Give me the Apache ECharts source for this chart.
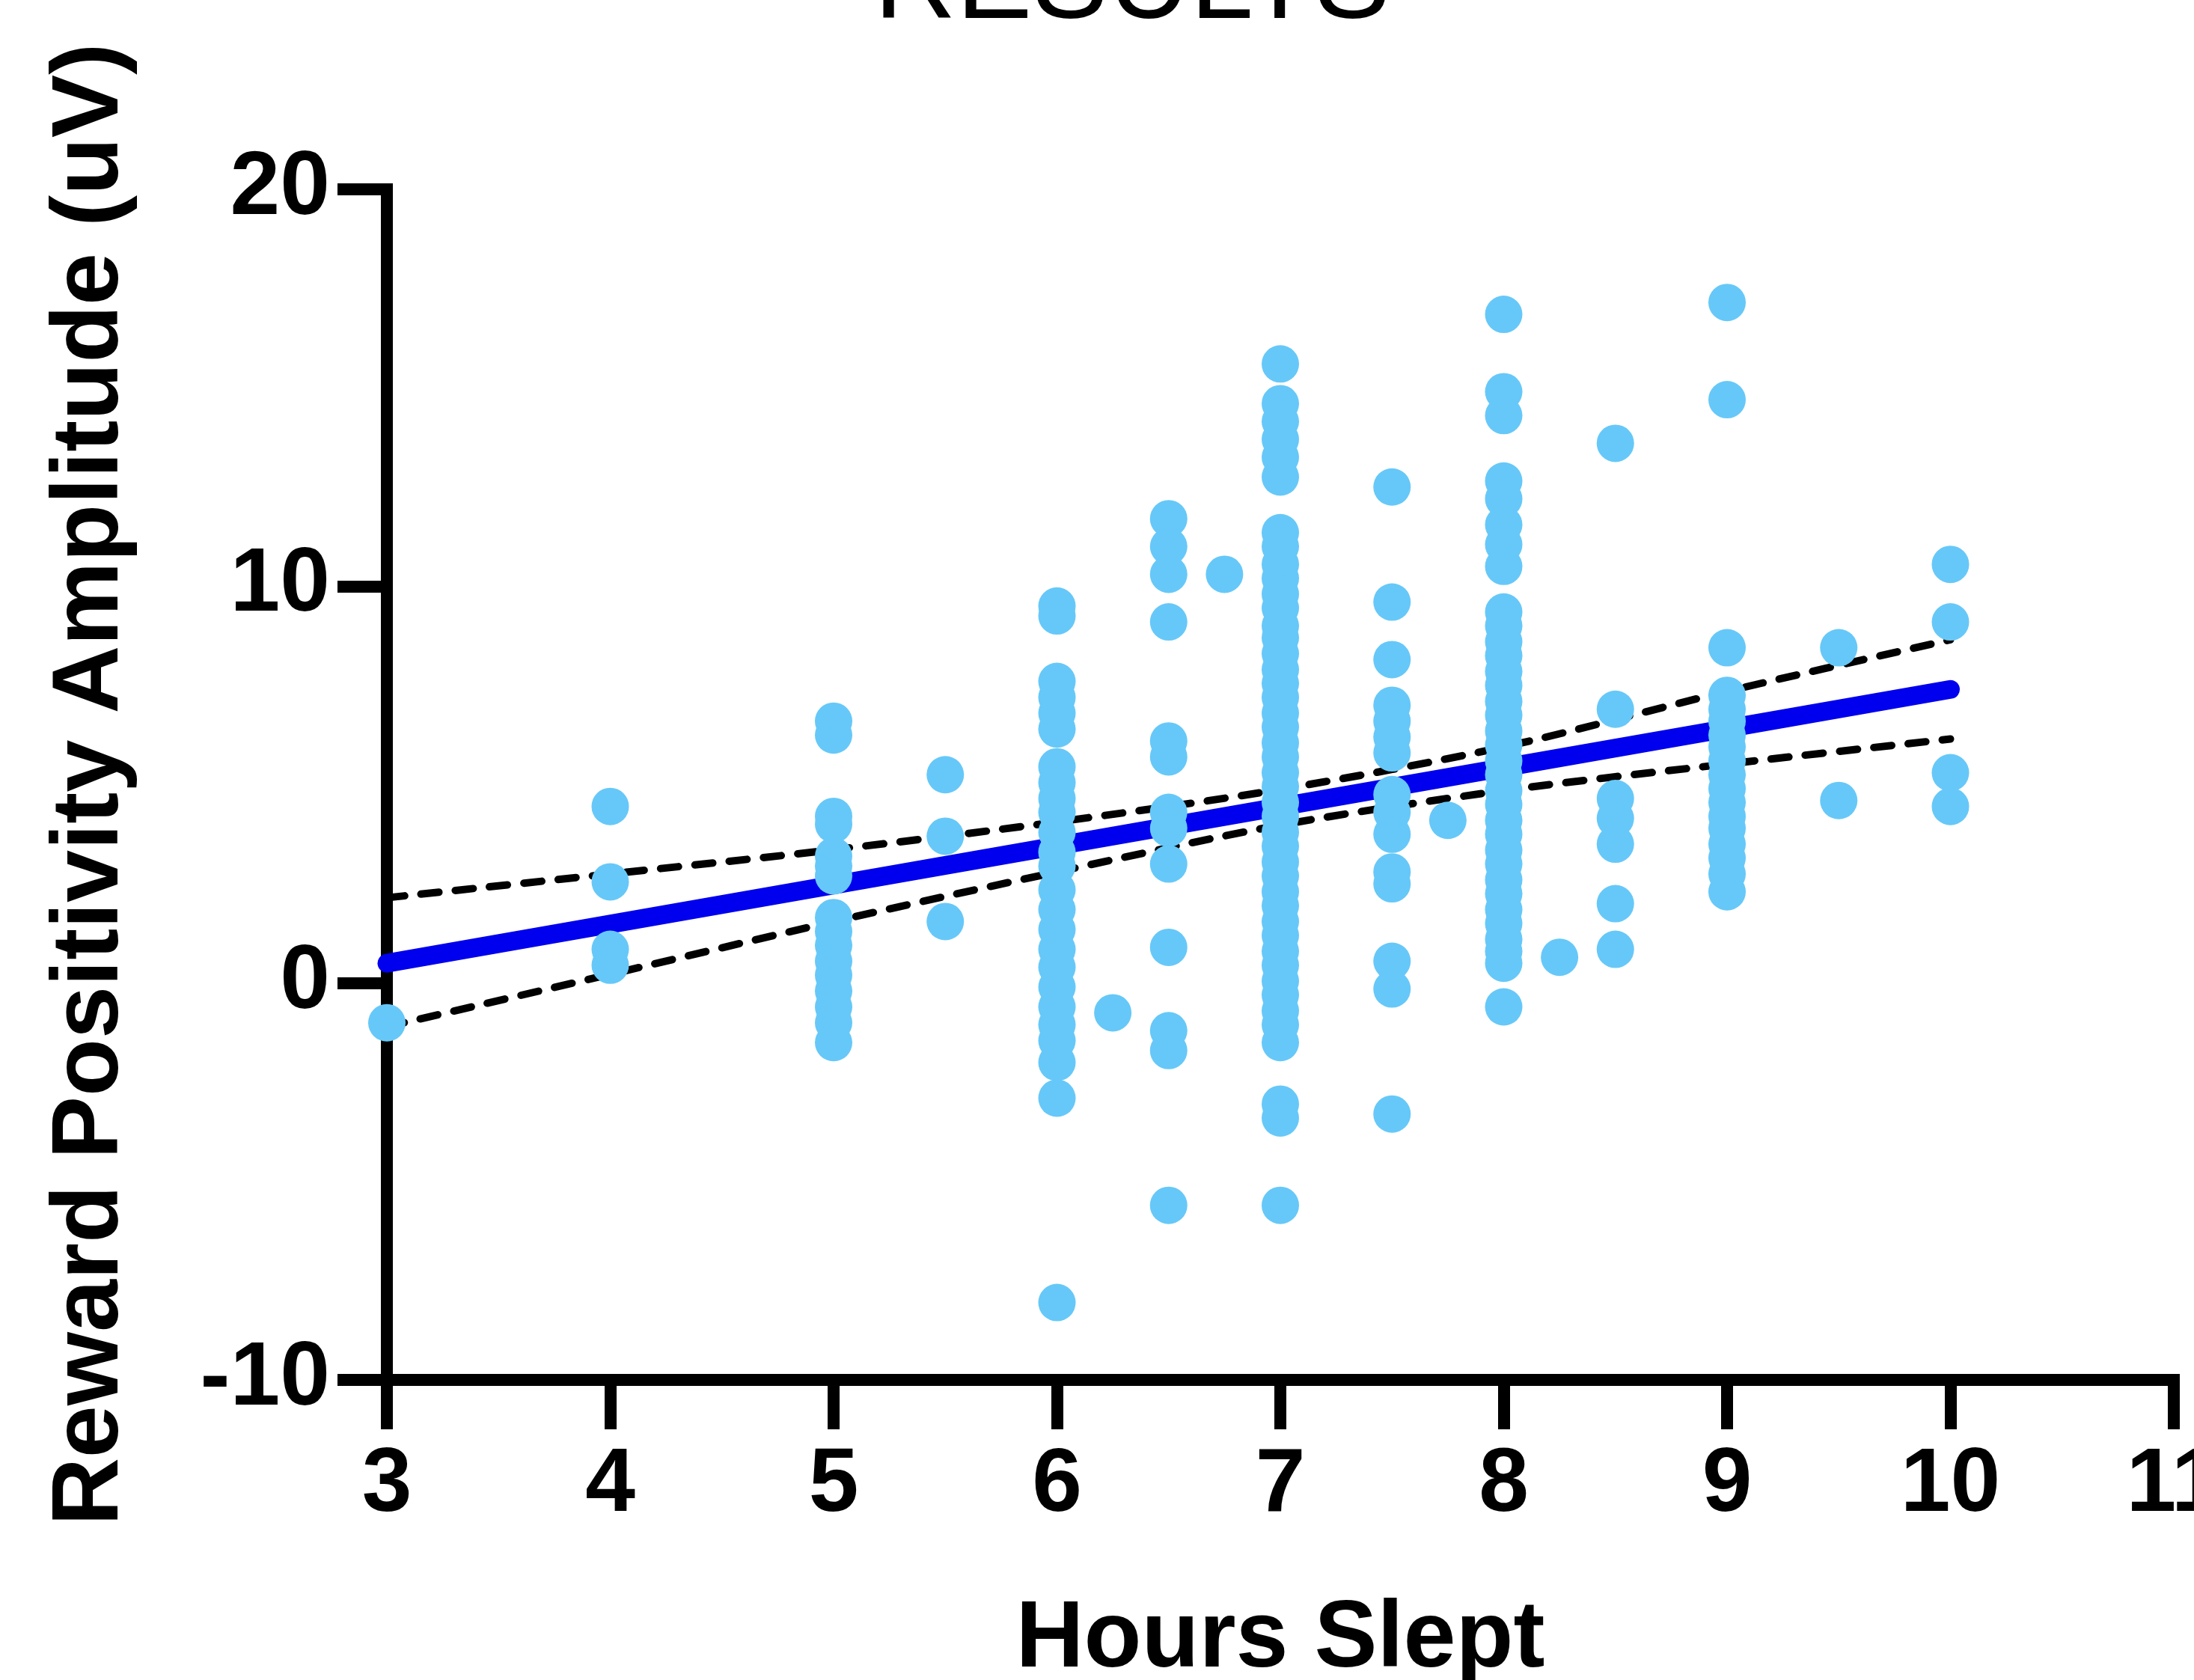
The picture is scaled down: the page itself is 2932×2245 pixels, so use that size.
<!DOCTYPE html>
<html>
<head>
<meta charset="utf-8">
<script src="https://cdn.jsdelivr.net/npm/echarts@6/dist/echarts.min.js"></script>
<style>
html,body{margin:0;padding:0;background:#ffffff;}
#chart{width:2932px;height:2245px;}
</style>
</head>
<body>
<div id="chart"></div>
<script>
// ---- Data ----
const chartTitle = "RESULTS";
const xAxisTitle = "Hours Slept";
const yAxisTitle = "Reward Positivity Amplitude (uV)";

const hoursLevels = [3, 4, 5, 5.5, 6, 6.25, 6.5, 6.75, 7, 7.5, 7.75, 8, 8.25, 8.5, 9, 9.5, 10];

const amp_3    = [-1.0];
const amp_4    = [4.45, 2.55, 0.85, 0.45];
const amp_5    = [6.6, 6.25, 4.2, 4.0, 3.2, 2.95, 2.7, 1.65, 1.3, 0.95, 0.55, 0.2, -0.2, -0.6, -1.0, -1.5];
const amp_5_5  = [5.25, 3.7, 1.55];
const amp_6    = [9.5, 9.25, 7.6, 7.2, 6.8, 6.4, 5.45, 5.05, 4.65, 4.3, 3.8, 3.3, 2.95, 2.35, 1.85, 1.35, 0.85, 0.4, -0.1, -0.6, -1.05, -1.45, -2.0, -2.9, -8.05];
const amp_6_25 = [-0.75];
const amp_6_5  = [11.7, 11.0, 10.3, 9.1, 6.1, 5.7, 4.3, 3.9, 3.0, 0.9, -1.2, -1.7, -5.6];
const amp_6_75 = [10.3];
const amp_7    = [15.6, 14.6, 14.15, 13.7, 13.25, 12.75, 11.35, 11.0, 10.55, 10.2, 9.8, 9.45, 9.0, 8.7, 8.3, 7.9, 7.55, 7.2, 6.8, 6.45, 6.05, 5.7, 5.3, 4.95, 4.55, 4.2, 3.8, 3.45, 3.05, 2.7, 2.3, 1.95, 1.55, 1.2, 0.8, 0.45, 0.05, -0.3, -0.7, -1.05, -1.5, -3.05, -3.4, -5.6];
const amp_7_5  = [12.5, 9.6, 8.15, 7.0, 6.6, 6.2, 5.8, 4.75, 4.3, 3.75, 2.8, 2.5, 0.55, -0.15, -3.3];
const amp_7_75 = [4.1];
const amp_8    = [16.85, 14.9, 14.3, 12.65, 12.2, 11.55, 11.05, 10.5, 9.35, 9.0, 8.6, 8.25, 7.85, 7.5, 7.1, 6.75, 6.35, 6.0, 5.6, 5.25, 4.85, 4.5, 4.1, 3.75, 3.35, 3.0, 2.6, 2.25, 1.85, 1.5, 1.1, 0.8, 0.5, -0.6];
const amp_8_25 = [0.65];
const amp_8_5  = [13.6, 6.9, 4.65, 4.15, 3.5, 2.0, 0.85];
const amp_9    = [17.15, 14.7, 8.45, 7.25, 6.9, 6.6, 6.25, 5.95, 5.6, 5.25, 4.9, 4.55, 4.2, 3.9, 3.5, 3.15, 2.75, 2.3];
const amp_9_5  = [8.45, 4.6];
const amp_10   = [10.55, 9.1, 5.3, 4.45];

const amplitudeByLevel = [amp_3, amp_4, amp_5, amp_5_5, amp_6, amp_6_25, amp_6_5, amp_6_75,
  amp_7, amp_7_5, amp_7_75, amp_8, amp_8_25, amp_8_5, amp_9, amp_9_5, amp_10];

// regression line and 95% confidence band
const fitX = [3, 10];
const fitY = [0.5, 7.4];
const bandX = [3, 4, 5, 6, 7, 8, 9, 10];
const bandUpper = [2.15, 2.75, 3.36, 4.06, 4.88, 5.95, 7.35, 8.65];
const bandLower = [-1.1, 0.22, 1.55, 2.8, 3.98, 4.85, 5.52, 6.15];

const xTicks = { min: 3, max: 11, interval: 1 };
const yTicks = { min: -10, max: 20, interval: 10 };

// ---- Build ----
const points = [];
hoursLevels.forEach((h, i) => amplitudeByLevel[i].forEach(v => points.push([h, v])));
const zip = (a, b) => a.map((v, i) => [v, b[i]]);

const FONT = "'Liberation Sans', Arial, Helvetica, sans-serif";
const chart = echarts.init(document.getElementById('chart'), null, { renderer: 'canvas' });

const axisCommon = {
  axisLine: { show: true, onZero: false, lineStyle: { color: '#000', width: 16, cap: 'square' } },
  axisTick: { show: true, length: 66, lineStyle: { color: '#000', width: 16 } },
  splitLine: { show: false },
  axisLabel: { color: '#000', fontSize: 120, fontWeight: 'bold', fontFamily: FONT },
  nameLocation: 'middle',
  nameTextStyle: { color: '#000', fontSize: 126, fontWeight: 'bold', fontFamily: FONT }
};

chart.setOption({
  animation: false,
  backgroundColor: '#ffffff',
  graphic: [{
    type: 'text',
    x: 1513, y: 58,
    style: { text: chartTitle, fontSize: 152, fontFamily: FONT, fill: '#000',
             align: 'center', verticalAlign: 'bottom' }
  }],
  grid: { left: 517, right: 27, top: 253, bottom: 401, containLabel: false, outerBoundsMode: 'none' },
  xAxis: Object.assign({}, axisCommon, {
    type: 'value', min: xTicks.min, max: xTicks.max, interval: xTicks.interval,
    name: xAxisTitle, nameGap: 285,
    axisLabel: Object.assign({}, axisCommon.axisLabel, { margin: 82 })
  }),
  yAxis: Object.assign({}, axisCommon, {
    type: 'value', min: yTicks.min, max: yTicks.max, interval: yTicks.interval,
    name: yAxisTitle, nameGap: 332,
    axisLabel: Object.assign({}, axisCommon.axisLabel, { margin: 76 })
  }),
  series: [
    { type: 'line', data: zip(bandX, bandUpper), symbol: 'none', smooth: 0.3, z: 2,
      lineStyle: { color: '#000', width: 10, type: [24, 22], cap: 'round' } },
    { type: 'line', data: zip(bandX, bandLower), symbol: 'none', smooth: 0.3, z: 2,
      lineStyle: { color: '#000', width: 10, type: [24, 22], cap: 'round' } },
    { type: 'line', data: zip(fitX, fitY), symbol: 'none', z: 3,
      lineStyle: { color: '#0000EE', width: 25, cap: 'round' } },
    { type: 'scatter', data: points, symbol: 'circle', symbolSize: 50, z: 4,
      itemStyle: { color: '#66C8F8', opacity: 1 } }
  ]
});
</script>
</body>
</html>
